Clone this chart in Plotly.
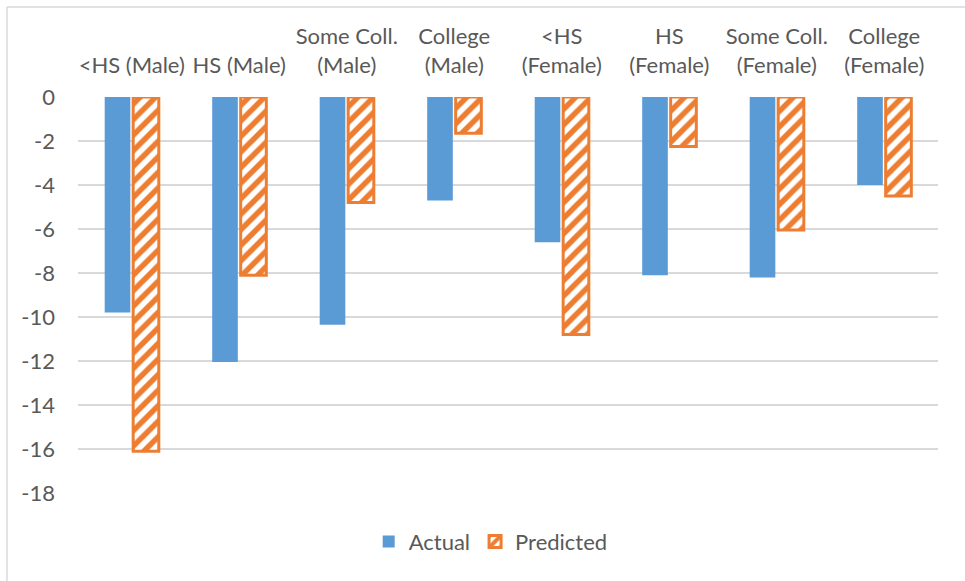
import plotly.graph_objects as go

categories = ["<HS (Male)", "HS (Male)", "Some Coll.<br>(Male)", "College<br>(Male)",
              "<HS<br>(Female)", "HS<br>(Female)", "Some Coll.<br>(Female)", "College<br>(Female)"]
actual = [-9.8, -12.05, -10.35, -4.7, -6.6, -8.1, -8.2, -4.0]
predicted = [-16.1, -8.1, -4.8, -1.65, -10.8, -2.25, -6.05, -4.5]
y_ticks = list(range(-18, 1, 2))
y_ticktext = [str(v) for v in y_ticks]

fig = go.Figure()
fig.add_trace(go.Bar(
    x=categories, y=actual, name="Actual",
    marker=dict(color="#5B9BD5", line=dict(width=0)),
))
fig.add_trace(go.Bar(
    x=categories, y=predicted, name="Predicted",
    marker=dict(color="white", line=dict(color="#ED7D31", width=3),
                pattern=dict(shape="/", fgcolor="#ED7D31", bgcolor="white",
                             fgopacity=1, size=11, solidity=0.5, fillmode="overlay")),
))

fig.update_layout(
    width=965, height=581,
    margin=dict(l=78, r=27, t=97, b=88),
    paper_bgcolor="white", plot_bgcolor="white",
    barmode="group", bargap=0.47, bargroupgap=0.1,
    font=dict(family="Lato, Open Sans, sans-serif", size=22, color="#595959"),
    showlegend=True,
    legend=dict(orientation="h", x=0.338, xanchor="left", y=-0.07, yanchor="top",
                itemwidth=30,
                font=dict(size=22, color="#595959"), traceorder="normal"),
    xaxis=dict(side="top", showgrid=False, showline=False, ticks="",
               automargin=False, ticklabelstandoff=19,
               tickfont=dict(size=22, color="#595959"), tickangle=0),
    yaxis=dict(range=[-18, 0], tickvals=y_ticks, ticktext=y_ticktext, showgrid=True,
               gridcolor="#D9D9D9", gridwidth=1.5, zeroline=False, automargin=False,
               showline=False, ticks="", ticklabelstandoff=22,
               tickfont=dict(size=22, color="#595959")),
    shapes=[
        dict(type="line", xref="paper", yref="paper", x0=-0.0826, x1=1.5,
             y0=1.227, y1=1.227, line=dict(color="#D9D9D9", width=1.5)),
        dict(type="line", xref="paper", yref="paper", x0=-0.0826, x1=-0.0826,
             y0=1.227, y1=-1.0, line=dict(color="#D9D9D9", width=1.5)),
    ],
)

fig.write_html("out.html", config={"displayModeBar": False},
               post_script="document.body.style.margin='0';document.body.style.overflow='hidden';")
